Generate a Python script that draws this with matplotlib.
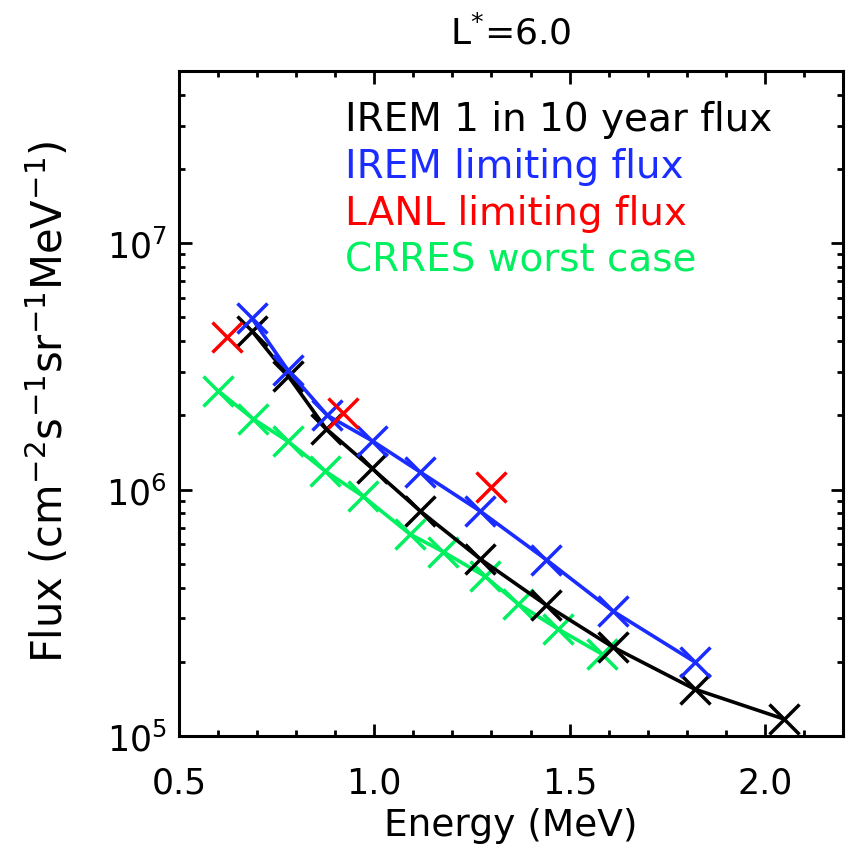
import numpy as np
import matplotlib
matplotlib.use("Agg")
import matplotlib.pyplot as plt
from matplotlib.ticker import MultipleLocator, LogLocator, NullFormatter

plt.rcParams["font.family"] = ["DejaVu Sans"]
plt.rcParams["mathtext.default"] = "regular"

# IREM 1 in 10 year flux
irem10_energy = [0.687, 0.779, 0.876, 0.994, 1.117, 1.27, 1.44, 1.61, 1.82, 2.05]
irem10_flux = [4.4e6, 2.9e6, 1.77e6, 1.22e6, 8.2e5, 5.25e5, 3.4e5, 2.3e5, 1.55e5, 1.17e5]

# IREM limiting flux
irem_lim_energy = [0.687, 0.779, 0.88, 0.994, 1.117, 1.27, 1.44, 1.61, 1.82]
irem_lim_flux = [4.95e6, 3.05e6, 2.0e6, 1.58e6, 1.18e6, 8.2e5, 5.2e5, 3.22e5, 2.0e5]

# LANL limiting flux (points only)
lanl_energy = [0.623, 0.92, 1.30]
lanl_flux = [4.15e6, 2.04e6, 1.02e6]

# CRRES worst case
crres_energy = [0.600, 0.689, 0.779, 0.874, 0.971, 1.091, 1.176, 1.283, 1.368, 1.470, 1.583]
crres_flux = [2.52e6, 1.94e6, 1.57e6, 1.19e6, 9.4e5, 6.6e5, 5.6e5, 4.45e5, 3.44e5, 2.72e5, 2.15e5]

labels = ["IREM 1 in 10 year flux", "IREM limiting flux",
          "LANL limiting flux", "CRRES worst case"]
colors = ["black", "#1a2cff", "#ff0000", "#00f060"]

fig = plt.figure(figsize=(8.5, 8.53), dpi=100)
ax = fig.add_axes([179 / 850, 116 / 853, 664 / 850, 665 / 853])

mk = dict(marker="x", markersize=21, markeredgewidth=2.5)
ax.plot(crres_energy, crres_flux, color=colors[3], lw=2.6, **mk)
ax.plot(irem10_energy, irem10_flux, color=colors[0], lw=2.6, **mk)
ax.plot(irem_lim_energy, irem_lim_flux, color=colors[1], lw=2.6, **mk)
ax.plot(lanl_energy, lanl_flux, color=colors[2], lw=0, **mk)

ax.set_yscale("log")
ax.set_xlim(0.5, 2.2)
ax.set_ylim(1e5, 5e7)

ax.xaxis.set_major_locator(MultipleLocator(0.5))
ax.xaxis.set_minor_locator(MultipleLocator(0.1))
ax.xaxis.set_major_formatter(matplotlib.ticker.FormatStrFormatter("%.1f"))
ax.yaxis.set_major_locator(LogLocator(base=10, numticks=10))
ax.yaxis.set_minor_locator(LogLocator(base=10, subs=np.arange(2, 10), numticks=20))
ax.yaxis.set_minor_formatter(NullFormatter())

ax.tick_params(which="both", direction="in", top=True, right=True, width=2)
ax.tick_params(which="major", length=9, labelsize=25)
ax.tick_params(which="minor", length=4.5)
ax.tick_params(axis="x", which="major", pad=21)
ax.tick_params(axis="y", which="major", pad=9)
for spine in ax.spines.values():
    spine.set_linewidth(2.2)

# legend as coloured text
for i, (lab, c) in enumerate(zip(labels, colors)):
    ax.text(0.25, 0.928 - i * 0.0705, lab, color=c, fontsize=28,
            ha="left", va="center", transform=ax.transAxes)

ax.set_title("L$^{*}$=6.0", fontsize=26, pad=20)
ax.set_xlabel("Energy (MeV)", fontsize=27, labelpad=6)
fig.text(48 / 850, (853 - 402) / 853,
         "Flux (cm$^{-2}$s$^{-1}$sr$^{-1}$MeV$^{-1}$)",
         rotation=90, fontsize=30, ha="center", va="center")

fig.savefig("out.png", dpi=100, facecolor="white")
plt.close(fig)
